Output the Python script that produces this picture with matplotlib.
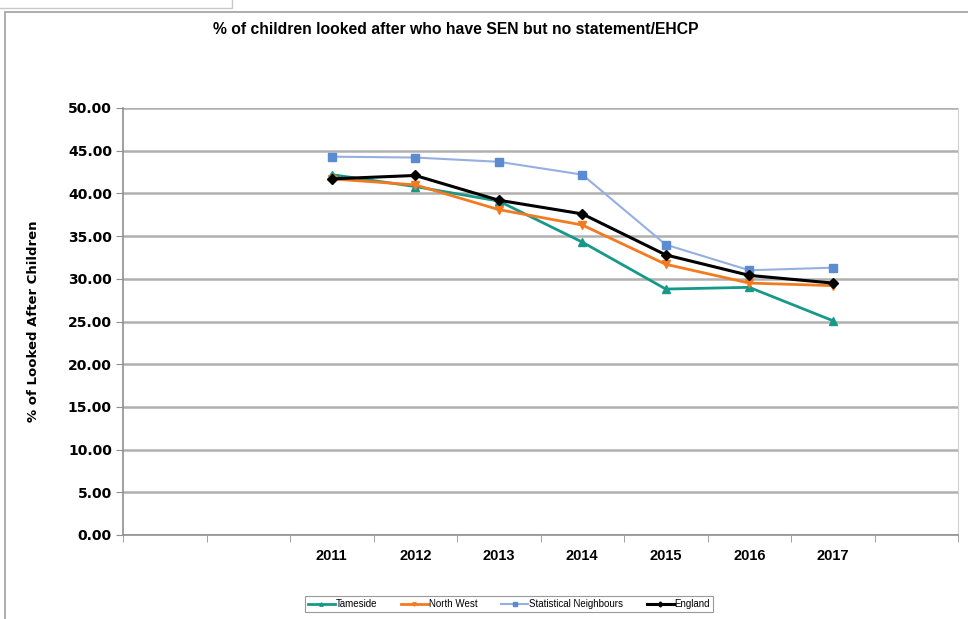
import matplotlib
matplotlib.use("Agg")
import matplotlib.pyplot as plt
from matplotlib.patches import Rectangle

# categories: two empty slots before 2011 and one after 2017, as in the source sheet
years = ["", "", "2011", "2012", "2013", "2014", "2015", "2016", "2017", ""]
data_years = ["2011", "2012", "2013", "2014", "2015", "2016", "2017"]

tameside = [42.2, 40.8, 39.1, 34.3, 28.8, 29.0, 25.1]
north_west = [41.7, 41.0, 38.1, 36.3, 31.7, 29.5, 29.2]
stat_neighbours = [44.3, 44.2, 43.7, 42.2, 34.0, 31.0, 31.3]
england = [41.7, 42.1, 39.2, 37.6, 32.8, 30.4, 29.5]

fig = plt.figure(figsize=(9.68, 6.19), dpi=100)

# outer frame of the embedded chart object
fig.patches.append(Rectangle((5 / 968, -0.01), 1.0, 1 - 12 / 619 + 0.01,
                             transform=fig.transFigure, fill=False,
                             edgecolor="#a0a0a0", linewidth=1.2))
fig.patches.append(Rectangle((-0.01, 1 - 8 / 619), 242 / 968, 0.05,
                             transform=fig.transFigure, fill=False,
                             edgecolor="#c8c8c8", linewidth=1))

ax = fig.add_axes([123 / 968, 1 - 535 / 619, (958 - 123) / 968, (535 - 108) / 619])

pos = {y: i for i, y in enumerate(years) if y}
xs = [pos[y] for y in data_years]

ax.plot(xs, tameside, color="#17998a", lw=2, marker="^", ms=6, label="Tameside", zorder=3)
ax.plot(xs, north_west, color="#f47a20", lw=2, marker="v", ms=6, label="North West", zorder=4)
ax.plot(xs, stat_neighbours, color="#95afe0", lw=1.5, marker="s", ms=6,
        mfc="#5b8bd0", mec="#5b8bd0", label="Statistical Neighbours", zorder=2)
ax.plot(xs, england, color="black", lw=2.2, marker="D", ms=5, label="England", zorder=5)

ax.set_xlim(-0.5, len(years) - 0.5)
ax.set_ylim(0, 50)
ax.set_yticks(range(0, 51, 5))
ax.set_yticklabels([f"{v:.2f}" for v in range(0, 51, 5)],
                   fontsize=10, fontweight="bold", family="DejaVu Sans")
ax.set_xticks(range(len(years)))
ax.set_xticklabels(years, fontsize=10.5, fontweight="bold", family="Liberation Sans")
ax.set_xticks([i - 0.5 for i in range(len(years) + 1)], minor=True)
ax.tick_params(axis="x", which="major", length=0, pad=10)
ax.tick_params(axis="x", which="minor", length=5, color="#909090")
ax.tick_params(axis="y", length=5, color="#909090", pad=3)

ax.grid(axis="y", color="#b0b0b0", lw=1.8)
ax.set_axisbelow(True)
for side in ["left", "bottom"]:
    ax.spines[side].set_color("#909090")
    ax.spines[side].set_linewidth(1.2)
ax.spines["right"].set_color("#d0d0d0")
ax.spines["top"].set_visible(False)

ax.set_ylabel("% of Looked After Children", fontsize=9.5, fontweight="bold",
              family="DejaVu Sans", labelpad=20)

fig.text(456 / 968, 1 - 30 / 619, "% of children looked after who have SEN but no statement/EHCP",
         ha="center", va="center", fontsize=11.3, fontweight="bold",
         family="Liberation Sans")

leg = fig.legend(loc="center", bbox_to_anchor=(509 / 968, 1 - 604 / 619), ncol=4,
                 frameon=True, fancybox=False, edgecolor="#808080",
                 handlelength=2.8, columnspacing=2.4, handletextpad=0.1,
                 borderpad=0.3, prop={"family": "Liberation Sans", "size": 7})
leg.get_frame().set_linewidth(0.8)
for h in leg.legend_handles:
    h.set_markersize(2.5)

fig.savefig("out.png", dpi=100)
